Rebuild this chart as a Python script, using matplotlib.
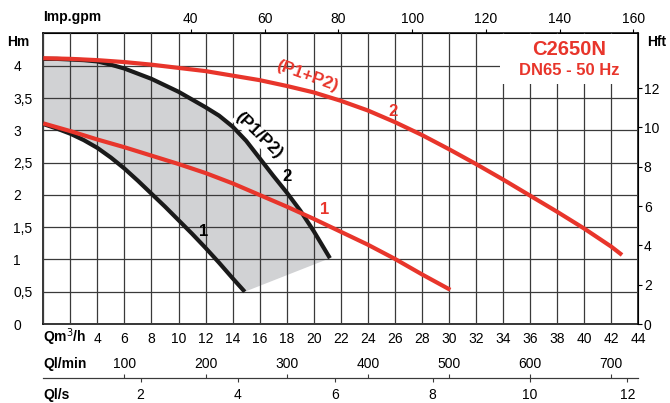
import numpy as np
import matplotlib
matplotlib.use("Agg")
from matplotlib import pyplot as plt
from matplotlib.patches import Rectangle

plt.rcParams['font.family'] = ['Liberation Sans', 'DejaVu Sans']

# Pump curves, Q in m3/h, H in m
q_red2 = [0, 2, 4, 6, 8, 10, 12, 14, 16, 18, 20, 22, 24, 26, 28, 30, 32, 34, 36, 38, 40, 42, 42.8]
h_red2 = [4.12, 4.11, 4.09, 4.06, 4.02, 3.97, 3.92, 3.85, 3.78, 3.69, 3.59, 3.46, 3.31, 3.13,
          2.93, 2.71, 2.48, 2.24, 1.99, 1.74, 1.48, 1.20, 1.07]
q_red1 = [0, 2, 4, 6, 8, 10, 12, 14, 16, 18, 20, 22, 24, 26, 28, 30.1]
h_red1 = [3.11, 2.99, 2.86, 2.74, 2.61, 2.48, 2.34, 2.18, 2.00, 1.82, 1.63, 1.43, 1.23, 1.01, 0.77, 0.53]
q_blk2 = [0, 1, 2, 3, 4, 5, 6, 7, 8, 9, 10, 11, 12, 13, 14, 15, 16, 17, 18, 19, 20, 21.2]
h_blk2 = [4.11, 4.11, 4.10, 4.09, 4.07, 4.02, 3.96, 3.88, 3.80, 3.70, 3.60, 3.48, 3.36, 3.23,
          3.06, 2.84, 2.57, 2.30, 2.04, 1.76, 1.44, 1.02]
q_blk1 = [0, 1, 2, 3, 4, 5, 6, 7, 8, 9, 10, 11, 12, 13, 14, 14.9]
h_blk1 = [3.10, 3.03, 2.95, 2.85, 2.73, 2.58, 2.41, 2.22, 2.02, 1.82, 1.61, 1.40, 1.18, 0.95, 0.71, 0.50]

hm_ticks = [0, 0.5, 1, 1.5, 2, 2.5, 3, 3.5, 4]
hm_labels = ['0', '0,5', '1', '1,5', '2', '2,5', '3', '3,5', '4']
q_ticks = list(range(0, 45, 2))
q_labels = ['', ''] + [str(v) for v in range(4, 45, 2)]
gpm_ticks = [40, 60, 80, 100, 120, 140, 160]
ft_ticks = [0, 2, 4, 6, 8, 10, 12]
lmin_ticks = [100, 200, 300, 400, 500, 600, 700]
ls_ticks = [2, 4, 6, 8, 10, 12]

red = '#e8352b'
gridc = '#3a3a3a'

fig = plt.figure(figsize=(6.7, 4.03), dpi=100)
ax = fig.add_axes([0.0646, 0.196, 0.888, 0.722])
ax.set_xlim(0, 44)
ax.set_ylim(0, 4.51)

ax.set_xticks(q_ticks, q_labels)
ax.set_yticks(hm_ticks, hm_labels)
ax.grid(True, color=gridc, lw=0.9)
ax.set_axisbelow(False)
ax.tick_params(axis='x', length=0, pad=6, labelsize=10)
ax.tick_params(axis='y', length=0, pad=21.6, labelsize=10)
for lab in ax.get_yticklabels():
    lab.set_horizontalalignment('left')
for sp in ax.spines.values():
    sp.set_linewidth(1.1)

# shaded operating area between curves 1 and 2
fx = np.concatenate([q_blk2, q_blk1[::-1]])
fy = np.concatenate([h_blk2, h_blk1[::-1]])
ax.fill(fx, fy, color='#d1d2d4', lw=0, zorder=1)

ax.add_patch(Rectangle((33.8, 3.72), 10.1, 0.77, facecolor='white',
                       edgecolor='none', zorder=2.6))

ax.plot(q_blk1, h_blk1, color='#1a1a1a', lw=3, zorder=3, solid_capstyle='butt')
ax.plot(q_blk2, h_blk2, color='#1a1a1a', lw=3, zorder=3, solid_capstyle='butt')
ax.plot(q_red1, h_red1, color=red, lw=3, zorder=3.2, solid_capstyle='butt')
ax.plot(q_red2, h_red2, color=red, lw=3, zorder=3.2, solid_capstyle='butt')

ax.text(38.87, 4.256, 'C2650N', color=red, fontsize=14.5, fontweight='bold',
        ha='center', va='center', zorder=5)
ax.text(38.87, 3.93, 'DN65 - 50 Hz', color=red, fontsize=12, fontweight='bold',
        ha='center', va='center', zorder=5)
ax.text(19.5, 3.84, '(P1+P2)', color=red, fontsize=12.5, fontweight='bold',
        rotation=-20, ha='center', va='center', zorder=5)
ax.text(15.9, 2.92, '(P1/P2)', color='black', fontsize=12.5, fontweight='bold',
        rotation=-44, ha='center', va='center', zorder=5,
        bbox=dict(facecolor='white', edgecolor='none', pad=0.3))
ax.text(25.86, 3.30, '2', color=red, fontsize=12, fontweight='bold',
        ha='center', va='center', zorder=5)
ax.text(18.0, 2.28, '2', color='black', fontsize=12, fontweight='bold',
        ha='center', va='center', zorder=5)
ax.text(20.83, 1.77, '1', color=red, fontsize=12, fontweight='bold',
        ha='center', va='center', zorder=5)
ax.text(11.83, 1.43, '1', color='black', fontsize=12, fontweight='bold',
        ha='center', va='center', zorder=5)

# top axis: Imp. gallons per minute
top = ax.secondary_xaxis('top', functions=(lambda q: q * 1000 / 60 / 4.54609,
                                           lambda g: g * 4.54609 * 60 / 1000))
top.set_xticks(gpm_ticks)
top.tick_params(length=3, pad=2, labelsize=10)

# right axis: feet
right = ax.secondary_yaxis('right', functions=(lambda m: m / 0.3048,
                                               lambda f: f * 0.3048))
right.set_yticks(ft_ticks)
right.tick_params(length=3, pad=1, labelsize=10)

# bottom scales: l/min and l/s
loc = -(378 - 324) / 291.0
lmin = ax.secondary_xaxis(loc, functions=(lambda q: q * 1000 / 60,
                                          lambda l: l * 60 / 1000))
lmin.set_alignment('top')
lmin.set_xticks(lmin_ticks)
lmin.tick_params(length=3, pad=2, labelsize=10, color=gridc)
lmin.spines['top'].set_color(gridc)

ls = ax.secondary_xaxis(loc, functions=(lambda q: q / 3.6,
                                        lambda s: s * 3.6))
ls.set_xticks(ls_ticks)
ls.tick_params(length=3, pad=4.5, labelsize=10, color=gridc)
ls.spines['bottom'].set_color(gridc)

# axis titles
fig.text(43 / 670, 1 - 17 / 403, 'Imp.gpm', fontsize=10, fontweight='bold', va='center')
fig.text(7 / 670, 1 - 42 / 403, 'Hm', fontsize=10, fontweight='bold', va='center')
fig.text(647 / 670, 1 - 42 / 403, 'Hft', fontsize=10, fontweight='bold', va='center')
fig.text(43 / 670, 1 - 337 / 403, 'Qm$^3$/h', fontsize=10, fontweight='bold', va='center')
fig.text(43 / 670, 1 - 364 / 403, 'Ql/min', fontsize=10, fontweight='bold', va='center')
fig.text(43 / 670, 1 - 395 / 403, 'Ql/s', fontsize=10, fontweight='bold', va='center')

fig.savefig('out.png', dpi=100)
